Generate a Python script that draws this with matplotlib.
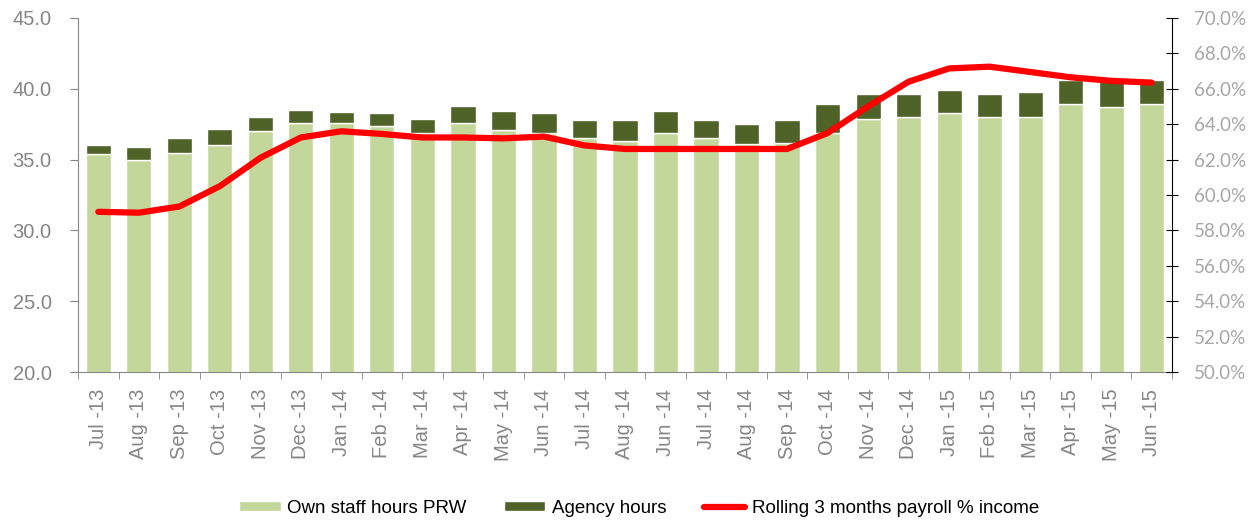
import numpy as np
import matplotlib
matplotlib.use("Agg")
import matplotlib.pyplot as plt

plt.rcParams['font.family'] = ['Liberation Sans', 'DejaVu Sans']

months = ["Jul -13", "Aug -13", "Sep -13", "Oct -13", "Nov -13", "Dec -13",
          "Jan -14", "Feb -14", "Mar -14", "Apr -14", "May -14", "Jun -14",
          "Jul -14", "Aug -14", "Jun -14", "Jul -14", "Aug -14", "Sep -14",
          "Oct -14", "Nov -14", "Dec -14", "Jan -15", "Feb -15", "Mar -15",
          "Apr -15", "May -15", "Jun -15"]

own_staff = [35.4, 35.0, 35.5, 36.0, 37.0, 37.6, 37.6, 37.4, 36.9, 37.6, 37.1, 36.9,
             36.5, 36.3, 36.9, 36.5, 36.1, 36.2, 36.9, 37.9, 38.0, 38.3, 38.0, 38.0,
             38.9, 38.7, 38.9]
agency = [0.65, 0.9, 1.0, 1.15, 1.0, 0.9, 0.75, 0.87, 1.0, 1.15, 1.3, 1.4,
          1.27, 1.5, 1.5, 1.27, 1.4, 1.6, 2.0, 1.75, 1.65, 1.65, 1.65, 1.75,
          1.75, 1.85, 1.75]
payroll_pct = [59.05, 59.0, 59.35, 60.5, 62.1, 63.25, 63.6, 63.45, 63.25, 63.25, 63.2, 63.3,
               62.8, 62.6, 62.6, 62.6, 62.6, 62.6, 63.5, 65.0, 66.4, 67.15, 67.25, 66.95,
               66.65, 66.45, 66.35]

grey = "#868686"
x = np.arange(len(months))

fig = plt.figure(figsize=(12.51, 5.2), dpi=100)
ax = fig.add_axes([0.0624, 0.2846, 0.8744, 0.6808])
ax2 = ax.twinx()

ax.bar(x, own_staff, width=0.62, color="#C4D79B", edgecolor="white", linewidth=1,
       label="Own staff hours PRW")
ax.bar(x, agency, width=0.62, bottom=own_staff, color="#4F6228", edgecolor="white",
       linewidth=1, label="Agency hours")
ax2.plot(x, payroll_pct, color="#FF0000", linewidth=4.5, solid_capstyle="round",
         label="Rolling 3 months payroll % income")

ax.set_xlim(-0.5, len(months) - 0.5)
ax.set_ylim(20, 45)
ax.set_yticks(np.arange(20, 45.1, 5))
ax.set_yticklabels([f"{v:.1f}" for v in np.arange(20, 45.1, 5)])
ax2.set_ylim(50, 70)
ax2.set_yticks(np.arange(50, 70.1, 2))
ax2.set_yticklabels([f"{v:.1f}%" for v in np.arange(50, 70.1, 2)],
                    family=['Lato', 'DejaVu Sans'])

ax.set_xticks(x)
ax.set_xticklabels(months, rotation=90, fontsize=14.5, color=grey)
ax.set_xticks(np.arange(-0.5, len(months)), minor=True)
ax.tick_params(axis="x", which="major", length=0, pad=12)
ax.tick_params(axis="x", which="minor", length=5, color=grey)
ax.tick_params(axis="y", labelsize=14.5, labelcolor=grey, color=grey, length=6, pad=13)
ax2.tick_params(axis="y", labelsize=13.5, labelcolor="#a6a6a6", color="black", length=8,
                direction="inout", pad=12)

ax.spines["top"].set_visible(False)
ax2.spines["top"].set_visible(False)
ax.spines["left"].set_color(grey)
ax.spines["bottom"].set_color(grey)
ax2.spines["left"].set_visible(False)
ax2.spines["bottom"].set_visible(False)
ax.spines["right"].set_visible(False)
ax2.spines["right"].set_color("black")

h1, l1 = ax.get_legend_handles_labels()
h2, l2 = ax2.get_legend_handles_labels()
fig.legend(h1 + h2, l1 + l2, loc="center", ncol=3, frameon=False,
           fontsize=13.5, bbox_to_anchor=(0.511, 0.023), columnspacing=2.0,
           handlelength=2.2, handleheight=0.45, handletextpad=0.35)

fig.savefig("out.png", dpi=100)
